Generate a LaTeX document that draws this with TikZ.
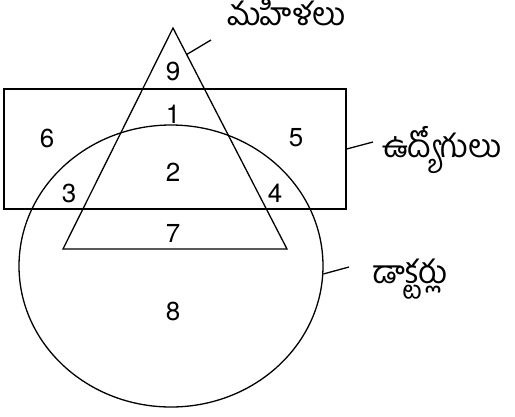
\documentclass[tikz,border=0pt]{standalone}
\usepackage{fontspec}
\setmainfont{TeX Gyre Heros}
\newfontfamily\telugu[Script=Telugu]{Hind Guntur}
\usetikzlibrary{shapes.geometric, positioning, calc}

\begin{document}
\begin{tikzpicture}[
    x=1pt, y=-1pt,
    set/.style={draw, line width=1.3pt, inner sep=0pt},
    region/.style={font=\fontsize{26}{26}\selectfont, inner sep=0pt},
    setname/.style={font=\telugu\fontsize{32}{32}\selectfont, inner sep=0pt, anchor=base west},
    leader/.style={line width=1.3pt}
]
    \useasboundingbox (0,0) rectangle (515,416);

    % the three sets
    \node[set, ellipse, minimum width=304pt, minimum height=282pt] (docs) at (171,266) {};
    \node[set, rectangle, minimum width=342pt, minimum height=120pt] (emp) at (175,149) {};
    \coordinate (apex) at (173,28);
    \coordinate (bl)   at (63,249);
    \coordinate (br)   at (287,249);
    \draw[set] (apex) -- (br) -- (bl) -- cycle;

    % region numbers
    \node[region] (r9) at (173,71)  {9};
    \node[region] (r1) at (173,114) {1};
    \node[region] (r6) at (47,138)  {6};
    \node[region] (r5) at (296,138) {5};
    \node[region] (r2) at (173,172) {2};
    \node[region] (r3) at (69,193)  {3};
    \node[region] (r4) at (275,193) {4};
    \node[region] (r7) at (173,233) {7};
    \node[region] (r8) at (173,311) {8};

    % set names
    \node[setname] (women) at (227,25)  {మహిళలు};
    \node[setname] (workers) at (382,157) {ఉద్యోగులు};
    \node[setname] (doctors) at (372,283) {డాక్టర్లు};

    \coordinate (wend) at (211,40);
    \coordinate (eend) at (373,142);
    \coordinate (dend) at (349,267);
    \draw[leader] ($(apex)!0.12!(br)$) -- (wend);
    \draw[leader] (emp.east) -- (eend);
    \draw[leader] (docs.-3) -- (dend);
\end{tikzpicture}
\end{document}
